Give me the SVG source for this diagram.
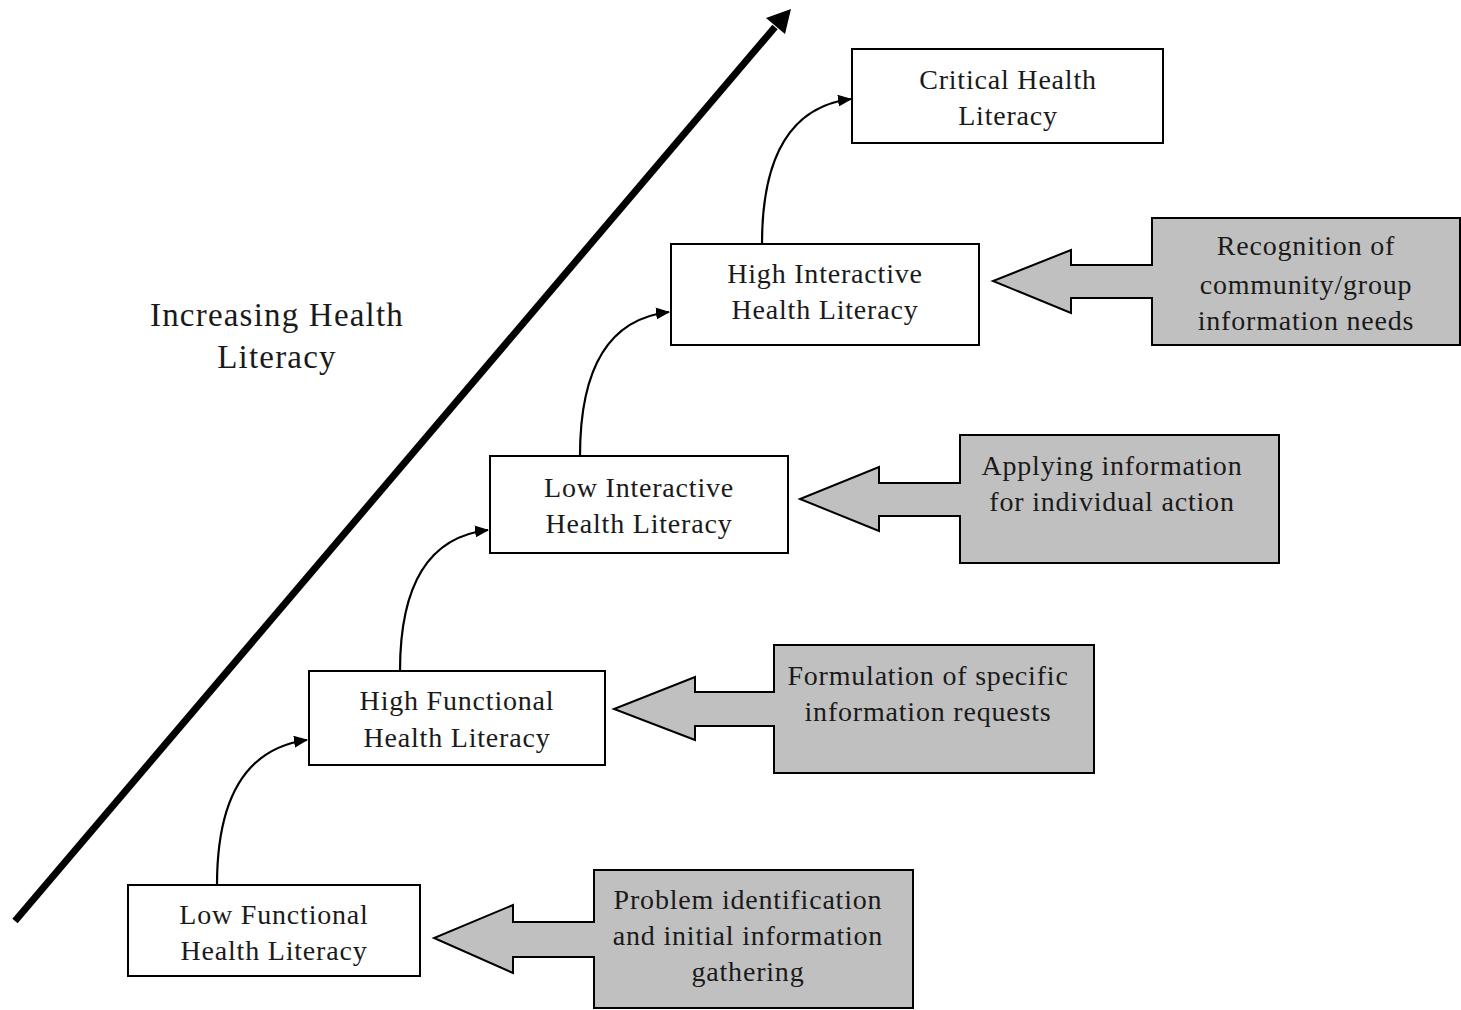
<svg xmlns="http://www.w3.org/2000/svg" width="1461" height="1010" viewBox="0 0 1461 1010">
<style>
.box{fill:#fff;stroke:#000;stroke-width:2}
.call{fill:#c0c0c0;stroke:#000;stroke-width:2;stroke-linejoin:miter}
.t{font-family:"Liberation Serif","Times New Roman",serif;font-size:28px;letter-spacing:0.8px;fill:#1a1a1a;text-anchor:middle}
.big{font-family:"Liberation Serif","Times New Roman",serif;font-size:33px;letter-spacing:1.2px;fill:#1a1a1a;text-anchor:middle}
.con{fill:none;stroke:#000;stroke-width:2.2}
</style>
<defs>
<marker id="ah" viewBox="0 0 14 12" refX="13" refY="6" markerWidth="14" markerHeight="12" markerUnits="userSpaceOnUse" orient="auto">
<path d="M0,0 L14,6 L0,12 z" fill="#000"/>
</marker>
</defs>
<g id="axis">
<line x1="15" y1="921" x2="775" y2="27" stroke="#000" stroke-width="7"/>
<polygon points="791,9 785,34 766,18" fill="#000"/>
</g>
<g id="axis-label">
<text class="big" x="277" y="326">Increasing Health</text>
<text class="big" x="277" y="368">Literacy</text>
</g>
<g id="connectors">
<path class="con" d="M217,885 Q217,752 307,740" marker-end="url(#ah)"/>
<path class="con" d="M400,671 Q400,540 488,530" marker-end="url(#ah)"/>
<path class="con" d="M580,456 Q580,322 669,312" marker-end="url(#ah)"/>
<path class="con" d="M762,244 Q762,110 851,99" marker-end="url(#ah)"/>
</g>
<g id="n-low-functional">
<rect class="box" x="128" y="885" width="292" height="91"/>
<text class="t" x="274" y="924">Low Functional</text>
<text class="t" x="274" y="960">Health Literacy</text>
</g>
<g id="n-high-functional">
<rect class="box" x="309" y="671" width="296" height="94"/>
<text class="t" x="457" y="710">High Functional</text>
<text class="t" x="457" y="747">Health Literacy</text>
</g>
<g id="n-low-interactive">
<rect class="box" x="490" y="456" width="298" height="97"/>
<text class="t" x="639" y="497">Low Interactive</text>
<text class="t" x="639" y="533">Health Literacy</text>
</g>
<g id="n-high-interactive">
<rect class="box" x="671" y="244" width="308" height="101"/>
<text class="t" x="825" y="283">High Interactive</text>
<text class="t" x="825" y="319">Health Literacy</text>
</g>
<g id="n-critical">
<rect class="box" x="852" y="49" width="311" height="94"/>
<text class="t" x="1008" y="89">Critical Health</text>
<text class="t" x="1008" y="125">Literacy</text>
</g>
<g id="c-problem">
<path class="call" d="M913,870 L913,1008 L594,1008 L594,957 L513,957 L513,973 L434,938 L513,905 L513,922 L594,922 L594,870 Z"/>
<text class="t" x="748" y="909">Problem identification</text>
<text class="t" x="748" y="945">and initial information</text>
<text class="t" x="748" y="981">gathering</text>
</g>
<g id="c-formulation">
<path class="call" d="M1094,645 L1094,773 L774,773 L774,726 L695,726 L695,740 L614,709 L695,677 L695,692 L774,692 L774,645 Z"/>
<text class="t" x="928" y="685">Formulation of specific</text>
<text class="t" x="928" y="721">information requests</text>
</g>
<g id="c-applying">
<path class="call" d="M1279,435 L1279,563 L960,563 L960,516 L879,516 L879,531 L800,499 L879,467 L879,483 L960,483 L960,435 Z"/>
<text class="t" x="1112" y="475">Applying information</text>
<text class="t" x="1112" y="511">for individual action</text>
</g>
<g id="c-recognition">
<path class="call" d="M1460,218 L1460,345 L1152,345 L1152,298 L1071,298 L1071,313 L993,281 L1071,250 L1071,265 L1152,265 L1152,218 Z"/>
<text class="t" x="1306" y="255">Recognition of</text>
<text class="t" x="1306" y="294">community/group</text>
<text class="t" x="1306" y="330">information needs</text>
</g>
</svg>
